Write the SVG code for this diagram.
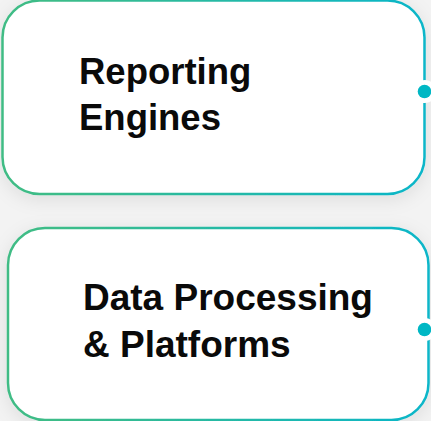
<svg xmlns="http://www.w3.org/2000/svg" width="431" height="421" viewBox="0 0 431 421">
  <defs>
    <linearGradient id="border" x1="0" y1="0" x2="1" y2="0">
      <stop offset="0" stop-color="#40bc85"/>
      <stop offset="0.15" stop-color="#3bbc8a"/>
      <stop offset="1" stop-color="#0ab6c9"/>
    </linearGradient>
    <filter id="shadow" x="-20%" y="-20%" width="140%" height="140%">
      <feDropShadow dx="0" dy="4" stdDeviation="9" flood-color="#000" flood-opacity="0.09"/>
    </filter>
    <style>
      .box { fill: #ffffff; stroke: url(#border); stroke-width: 2.5; filter: url(#shadow); }
      .label { font-family: "Liberation Sans", Arial, sans-serif; font-weight: bold; font-size: 36.5px; fill: #0a0a0a; }
      .label2 { font-size: 37px; }
      .halo { fill: #ffffff; }
      .dot { fill: #00b7c4; }
    </style>
  </defs>
  <rect x="0" y="0" width="431" height="421" fill="#f3f3f3"/>
  <g id="node-reporting">
    <rect class="box" x="2.5" y="0.5" width="422" height="193.5" rx="37" ry="37"/>
    <text class="label" x="79" y="84">Reporting</text>
    <text class="label" x="79" y="130">Engines</text>
  </g>
  <g id="node-data">
    <rect class="box" x="8" y="228" width="420.5" height="192" rx="37" ry="37"/>
    <text class="label label2" x="83" y="310">Data Processing</text>
    <text class="label label2" x="83" y="357">&amp; Platforms</text>
  </g>
  <g id="connectors">
    <circle class="halo" cx="425" cy="91.5" r="11.5"/>
    <circle class="dot" cx="424.5" cy="91.5" r="6.8"/>
    <circle class="halo" cx="425" cy="329.5" r="11.5"/>
    <circle class="dot" cx="424.5" cy="329.5" r="6.8"/>
  </g>
</svg>
